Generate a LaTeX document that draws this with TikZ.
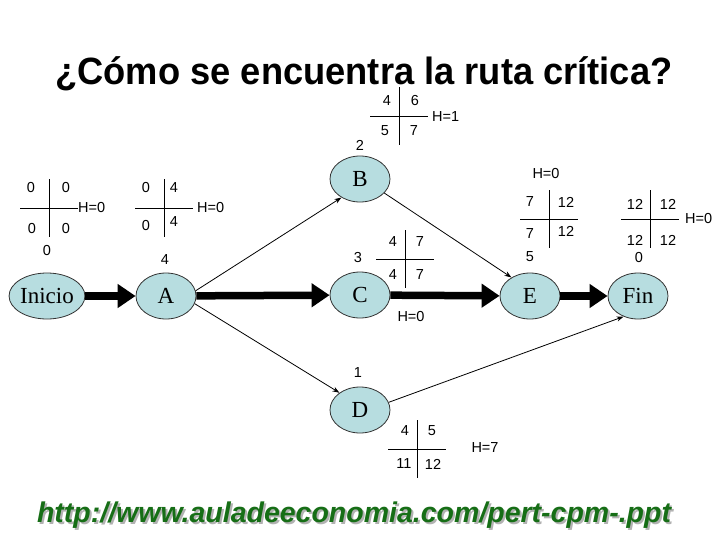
\documentclass[tikz,border=0pt]{standalone}
\usepackage{fontspec}
\setmainfont{Liberation Serif}
\newfontfamily\arial{Liberation Sans}
\usetikzlibrary{arrows.meta,shapes.geometric}
\definecolor{nodefill}{RGB}{183,221,224}
\definecolor{urlgreen}{RGB}{22,110,22}
\tikzset{
  evt/.style={ellipse,draw=black!80,line width=0.8pt,fill=nodefill,minimum width=60pt,minimum height=46pt,inner sep=0pt,font=\fontsize{23}{23}\selectfont},
  num/.style={font=\arial\fontsize{14.5}{14.5}\selectfont,inner sep=0pt},
  thick arrow/.style={line width=7.5pt,-{Triangle[length=18pt 0 0,width=23pt 0 0]}},
  thin arrow/.style={line width=0.8pt,-{Stealth[length=7pt,width=5pt]}},
  tcross/.pic={\draw[line width=0.8pt] (-29,0)--(29,0); \draw[line width=0.8pt] (0,-29)--(0,29);}
}
\begin{document}
\begin{tikzpicture}[x=1pt,y=-1pt]
\useasboundingbox (0,0) rectangle (728,546);
\fill[white] (0,0) rectangle (728,546);
% title
\node[font=\arial\bfseries\fontsize{38}{38}\selectfont,inner sep=0pt,anchor=base,xscale=0.955] (title) at (364,84) {¿Cómo se encuentra la ruta crítica?};
% nodes
\node[evt,minimum width=66pt] (ini) at (47,296) {Inicio};
\node[evt] (a) at (166,296) {A};
\node[evt] (b) at (360,179) {B};
\node[evt] (c) at (360,295) {C};
\node[evt] (d) at (360,410) {D};
\node[evt] (e) at (530,296) {E};
\node[evt] (fin) at (638,296) {Fin};
% node numbers
\node[num] (ni) at (47,251) {0};
\node[num] (na) at (165,260) {4};
\node[num] (nb) at (360,145) {2};
\node[num] (nc) at (358,258) {3};
\node[num] (nd) at (358,373) {1};
\node[num] (ne) at (530,257) {5};
\node[num] (nf) at (639,258) {0};
% connectors
\draw[thick arrow] (ini) -- (a);
\draw[thick arrow] (a) -- (c);
\draw[thick arrow] (c) -- (e);
\draw[thick arrow] (e) -- (fin);
\draw[thin arrow] (a.10) -- (b.225);
\draw[thin arrow] (a.-15) -- (d.140);
\draw[thin arrow] (b.-30) -- (e.135);
\draw[thin arrow] (d.15) -- (fin.-125);
% crosses
\pic at (49,208) {tcross};
\node[num] (i1) at (31,188) {0};
\node[num] (i2) at (66,188) {0};
\node[num] (i3) at (32,229) {0};
\node[num] (i4) at (66,229) {0};
\node[num,anchor=west] (ih) at (78,208) {H=0};
\pic at (164,208) {tcross};
\node[num] (a1) at (146,188) {0};
\node[num] (a2) at (174,188) {4};
\node[num] (a3) at (146,226) {0};
\node[num] (a4) at (174,222) {4};
\node[num,anchor=west] (ah) at (197,208) {H=0};
\pic at (399,116) {tcross};
\node[num] (b1) at (387,101) {4};
\node[num] (b2) at (415,101) {6};
\node[num] (b3) at (385,131) {5};
\node[num] (b4) at (414,131) {7};
\node[num,anchor=west] (bh) at (432,117) {H=1};
\pic at (405,259) {tcross};
\node[num] (c1) at (393,242) {4};
\node[num] (c2) at (420,242) {7};
\node[num] (c3) at (393,275) {4};
\node[num] (c4) at (420,275) {7};
\node[num] (ch) at (411,317) {H=0};
\pic at (549,219) {tcross};
\node[num] (e1) at (530,202) {7};
\node[num] (e2) at (566,202) {12};
\node[num] (e3) at (530,234) {7};
\node[num] (e4) at (566,231) {12};
\node[num] (eh) at (546,174) {H=0};
\pic at (650,219) {tcross};
\node[num] (f1) at (635,204) {12};
\node[num] (f2) at (668,204) {12};
\node[num] (f3) at (635,240) {12};
\node[num] (f4) at (668,240) {12};
\node[num,anchor=west] (fh) at (685,219) {H=0};
\pic at (417,449) {tcross};
\node[num] (d1) at (405,431) {4};
\node[num] (d2) at (432,431) {5};
\node[num] (d3) at (404,464) {11};
\node[num] (d4) at (433,464) {12};
\node[num] (dh) at (485,448) {H=7};
% url
\node[font=\arial\bfseries\itshape\fontsize{28.5}{28.5}\selectfont,inner sep=0pt,text=black!30] (urlsh) at (356,517) {http://www.auladeeconomia.com/pert-cpm-.ppt};
\node[font=\arial\bfseries\itshape\fontsize{28.5}{28.5}\selectfont,inner sep=0pt,text=urlgreen] (url) at (354,515) {http://www.auladeeconomia.com/pert-cpm-.ppt};
\end{tikzpicture}
\end{document}
